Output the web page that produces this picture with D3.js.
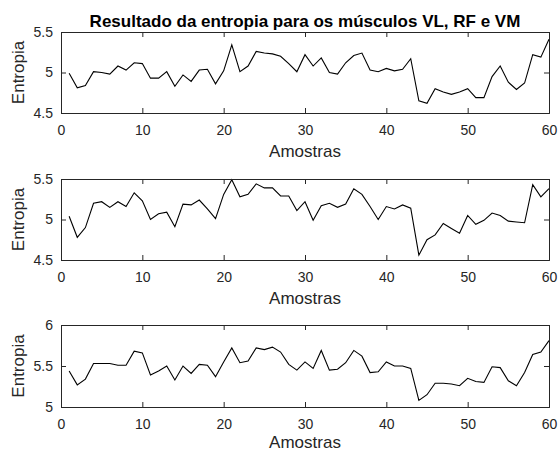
<!DOCTYPE html>
<html><head><meta charset="utf-8">
<script src="https://cdn.jsdelivr.net/npm/d3@7"></script>
<style>body{margin:0;background:#fff}svg{display:block}text{font-family:"Liberation Sans",Arial,sans-serif;fill:#262626}</style>
</head><body><svg id="c" width="559" height="454"></svg>
<script>
const title = "Resultado da entropia para os músculos VL, RF e VM";
const xLabel = "Amostras";
const yLabel = "Entropia";
const xTicks = [0,10,20,30,40,50,60];
const yTicks1 = [4.5,5,5.5];
const yTicks2 = [4.5,5,5.5];
const yTicks3 = [5,5.5,6];
const vl = [4.99,4.81,4.84,5.01,5.00,4.98,5.08,5.03,5.12,5.11,4.93,4.93,5.01,4.83,4.97,4.89,5.03,5.04,4.86,5.02,
5.34,5.01,5.08,5.26,5.24,5.23,5.20,5.11,5.01,5.22,5.08,5.18,5.00,4.98,5.12,5.21,5.24,5.03,5.01,5.05,
5.02,5.04,5.17,4.65,4.62,4.80,4.76,4.73,4.76,4.80,4.69,4.69,4.95,5.08,4.88,4.79,4.87,5.22,5.19,5.41];
const rf = [5.04,4.78,4.90,5.20,5.22,5.15,5.22,5.16,5.33,5.23,5.00,5.07,5.09,4.91,5.19,5.18,5.24,5.13,5.01,5.31,
5.49,5.28,5.31,5.44,5.39,5.39,5.29,5.29,5.11,5.22,4.99,5.17,5.20,5.15,5.19,5.38,5.31,5.16,5.00,5.16,
5.13,5.18,5.14,4.56,4.75,4.81,4.95,4.89,4.83,5.05,4.94,4.99,5.08,5.05,4.98,4.97,4.96,5.43,5.28,5.38];
const vm = [5.44,5.27,5.34,5.53,5.53,5.53,5.51,5.51,5.68,5.66,5.39,5.44,5.50,5.33,5.50,5.41,5.52,5.51,5.37,5.55,
5.72,5.54,5.56,5.72,5.70,5.73,5.67,5.52,5.45,5.55,5.47,5.69,5.45,5.46,5.54,5.69,5.62,5.42,5.43,5.55,
5.50,5.50,5.47,5.08,5.15,5.29,5.29,5.28,5.26,5.35,5.31,5.30,5.49,5.48,5.32,5.26,5.42,5.64,5.67,5.81];

const svg = d3.select("#c");
const L = 61, R = 549;
const panels = [
  {data: vl, yd:[4.5,5.5], ticks:yTicks1, top:32, bot:113, lab:157},
  {data: rf, yd:[4.5,5.5], ticks:yTicks2, top:179, bot:260, lab:304},
  {data: vm, yd:[5,6], ticks:yTicks3, top:325, bot:407, lab:448}
];
const x = d3.scaleLinear().domain([0,60]).range([L,R]);
const fmt = d => String(d);
panels.forEach(p => {
  const y = d3.scaleLinear().domain(p.yd).range([p.bot,p.top]);
  const g = svg.append("g");
  const line = d3.line().x((d,i)=>x(i+1)).y(d=>y(d));
  g.append("path").datum(p.data).attr("d",line).attr("fill","none")
    .attr("stroke","#000").attr("stroke-width",1.1).attr("stroke-linejoin","miter");
  const ax = g.append("g").attr("transform",`translate(0,${p.bot})`)
    .call(d3.axisBottom(x).tickValues(xTicks).tickSize(-5).tickPadding(12).tickFormat(fmt));
  const axT = g.append("g").attr("transform",`translate(0,${p.top})`)
    .call(d3.axisTop(x).tickValues(xTicks).tickSize(-5).tickFormat(""));
  const ay = g.append("g").attr("transform",`translate(${L},0)`)
    .call(d3.axisLeft(y).tickValues(p.ticks).tickSize(-5).tickPadding(8).tickFormat(fmt));
  const ayR = g.append("g").attr("transform",`translate(${R},0)`)
    .call(d3.axisRight(y).tickValues(p.ticks).tickSize(-5).tickFormat(""));
  [ax,axT,ay,ayR].forEach(a=>{
    a.select(".domain").attr("stroke","#262626").attr("stroke-width",1);
    a.selectAll(".tick line").attr("stroke","#262626");
    a.selectAll("text").style("font-size","14px").attr("fill","#262626")
      .style("font-family","'Liberation Sans',Arial,sans-serif");
  });
  g.append("text").attr("x",(L+R)/2).attr("y",p.lab).attr("text-anchor","middle")
    .style("font-size","17px").text(xLabel);
  g.append("text").attr("transform",`translate(24,${(p.top+p.bot)/2}) rotate(-90)`)
    .attr("text-anchor","middle").style("font-size","17px").text(yLabel);
});
svg.append("text").attr("x",(L+R)/2).attr("y",27).attr("text-anchor","middle")
  .style("font-size","17px").style("font-weight","bold").style("fill","#000").text(title);
</script></body></html>
